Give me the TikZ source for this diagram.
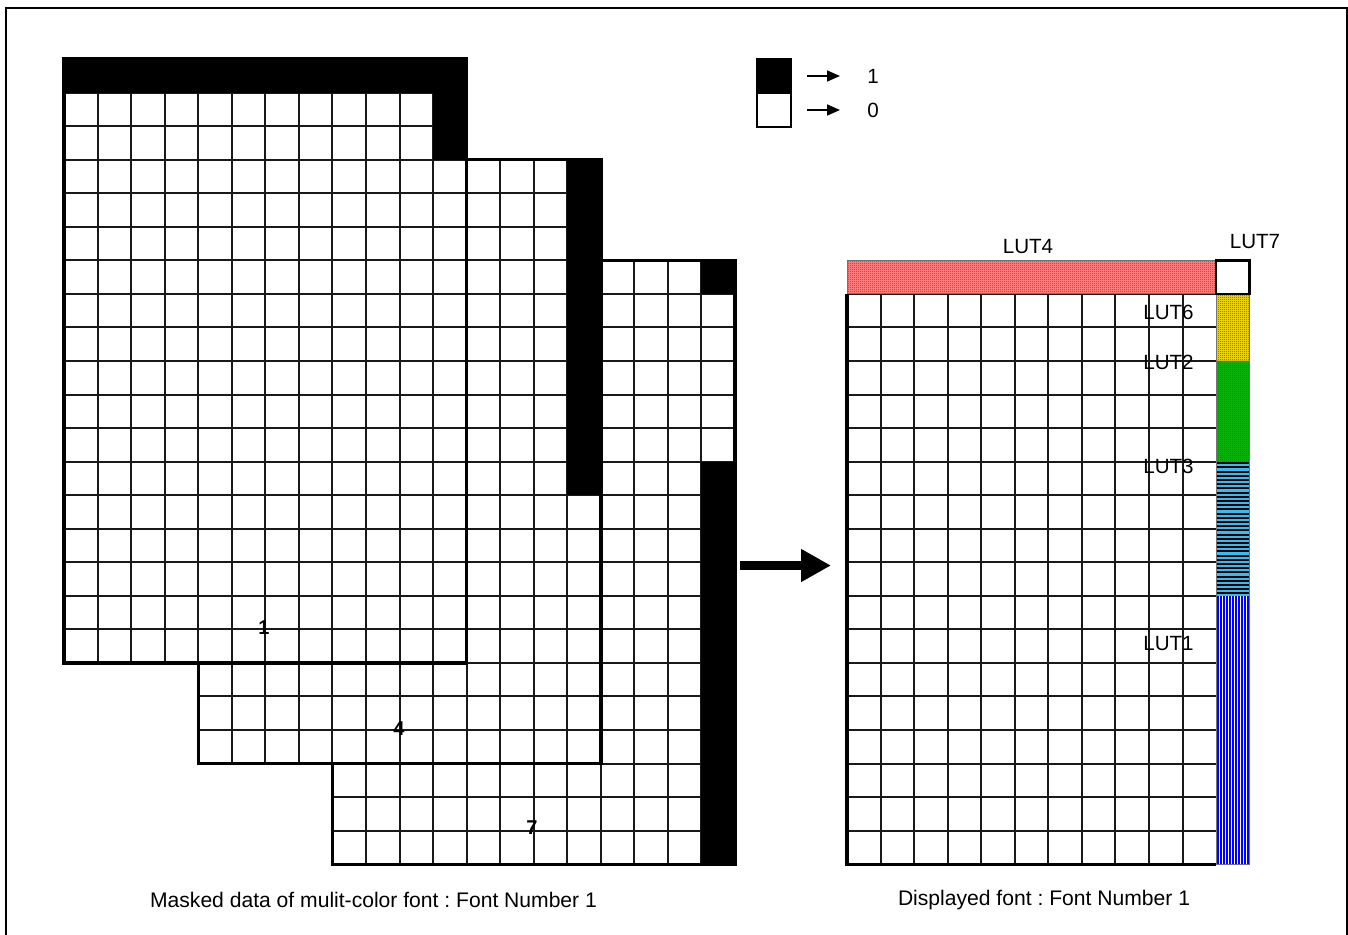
\documentclass[tikz,border=0pt]{standalone}
\usepackage{fontspec}
\setmainfont{Liberation Sans}
\usetikzlibrary{arrows.meta,patterns}
\frenchspacing

\pgfdeclarepatternformonly{finecheck}{\pgfpointorigin}{\pgfqpoint{2pt}{2pt}}{\pgfqpoint{2pt}{2pt}}{%
  \pgfpathrectangle{\pgfpointorigin}{\pgfqpoint{1pt}{1pt}}%
  \pgfpathrectangle{\pgfqpoint{1pt}{1pt}}{\pgfqpoint{1pt}{1pt}}%
  \pgfusepath{fill}}

\def\cs{33.55}

\newcommand\maskgrid[3]{%
\begin{scope}[shift={(#1,#2)}]
  \fill[white] (0,0) rectangle (12*\cs,18*\cs);
  \foreach \i in {1,...,11} \draw[gridline] (\i*\cs,0) -- (\i*\cs,18*\cs);
  \foreach \j in {1,...,17} \draw[gridline] (0,\j*\cs) -- (12*\cs,\j*\cs);
  \foreach \c/\r/\w/\h in {#3}
    \fill[black] (\c*\cs,\r*\cs) rectangle ({(\c+\w)*\cs},{(\r+\h)*\cs});
  \draw[outline] (0,0) rectangle (12*\cs,18*\cs);
\end{scope}}

\begin{document}
\begin{tikzpicture}[x=1pt,y=-1pt,
  gridline/.style={line width=2pt,black!90},
  outline/.style={line width=3.4pt,black},
  lut/.style={font=\fontsize{20.6}{24}\selectfont,inner sep=0pt},
  captxt/.style={font=\fontsize{21.1}{24}\selectfont,inner sep=0pt},
  num/.style={font=\fontsize{20}{24}\selectfont\bfseries,inner sep=0pt},
  legnum/.style={font=\fontsize{20.6}{24}\selectfont,inner sep=0pt},
  legbox/.style={draw,line width=1.6pt,minimum width=34pt,minimum height=34pt,inner sep=0pt},
  legarrow/.style={line width=1.6pt,-{Triangle[length=13pt,width=11pt]}},
  bigarrow/.style={line width=9.5pt,-{Triangle[length=30pt,width=31pt]}}
]
\useasboundingbox (0,0) rectangle (1348,934);
\draw[line width=2pt] (6,8) rectangle (1347,960);

% masked grids (back to front)
\maskgrid{332.4}{260.3}{11/0/1/1, 11/6/1/12}
\maskgrid{198.2}{159.65}{11/0/1/10}
\maskgrid{64}{59}{0/0/12/1, 11/0/1/3}

\node[num] (n1) at (264,628) {1};
\node[num] (n4) at (399,728.5) {4};
\node[num] (n7) at (532,828) {7};

% legend
\node[legbox,fill=black] (b1) at (774,76) {};
\node[legbox,fill=white] (b0) at (774,110) {};
\node[legnum] (l1) at (873,76) {1};
\node[legnum] (l0) at (873,110) {0};
\coordinate (a1s) at (807,76);
\coordinate (a1e) at (840,76);
\coordinate (a0s) at (807,110);
\coordinate (a0e) at (840,110);
\draw[legarrow] (a1s) -- (a1e);
\draw[legarrow] (a0s) -- (a0e);

% big arrow
\coordinate (bs) at (740,565.5);
\coordinate (be) at (831,565.5);
\draw[bigarrow] (bs) -- (be);

% displayed grid
\begin{scope}[shift={(847,260.3)}]
  \fill[white] (0,0) rectangle (12*\cs,18*\cs);
  \foreach \i in {1,...,10} \draw[gridline] (\i*\cs,\cs) -- (\i*\cs,18*\cs);
  \foreach \j in {1,...,17} \draw[gridline] (0,\j*\cs) -- (11*\cs,\j*\cs);
  % LUT4 row
  \fill[red!45!white] (0,0) rectangle (11*\cs,\cs);
  \fill[pattern=finecheck,pattern color=red] (0,0) rectangle (11*\cs,\cs);
  \draw[line width=0.8pt,black!55] (0,0) rectangle (11*\cs,\cs);
  % LUT6 yellow
  \fill[yellow!85!orange] (11*\cs,\cs) rectangle (12*\cs,3*\cs);
  \fill[pattern=finecheck,pattern color=black!70] (11*\cs,\cs) rectangle (12*\cs,3*\cs);
  % LUT2 green
  \fill[green!75!black] (11*\cs,3*\cs) rectangle (12*\cs,6*\cs);
  \fill[pattern=finecheck,pattern color=black!70] (11*\cs,3*\cs) rectangle (12*\cs,6*\cs);
  % LUT3 cyan stripes
  \fill[cyan!80!white] (11*\cs,6*\cs) rectangle (12*\cs,10*\cs);
  \begin{scope}
    \clip (11*\cs,6*\cs) rectangle (12*\cs,10*\cs);
    \foreach \k in {0,...,32}
      \draw[line width=2pt,black] (11*\cs,{6*\cs+1.5+\k*4.2}) -- (12*\cs,{6*\cs+1.5+\k*4.2});
  \end{scope}
  % LUT1 blue stripes
  \fill[white] (11*\cs,10*\cs) rectangle (12*\cs,18*\cs);
  \begin{scope}
    \clip (11*\cs,10*\cs) rectangle (12*\cs,18*\cs);
    \foreach \k in {0,...,11}
      \draw[line width=2.1pt,blue] ({11*\cs+1.5+\k*3.05},10*\cs) -- ({11*\cs+1.5+\k*3.05},18*\cs);
  \end{scope}
  \draw[line width=0.8pt,black!55] (11*\cs,\cs) rectangle (12*\cs,18*\cs);
  % LUT7 cell
  \draw[line width=2.6pt,black] (11*\cs,0) rectangle (12*\cs,\cs);
  % outline
  \draw[outline] (0,\cs) -- (0,18*\cs) -- (11*\cs,18*\cs);
\end{scope}

\node[lut] (lut4) at (1028,246.5) {LUT4};
\node[lut] (lut7) at (1255,242) {LUT7};
\node[lut] (lut6) at (1168.5,312) {LUT6};
\node[lut] (lut2) at (1168.5,362.5) {LUT2};
\node[lut] (lut3) at (1168.5,466) {LUT3};
\node[lut] (lut1) at (1168.5,643.5) {LUT1};

\node[captxt] (c1) at (373.5,900) {Masked data of mulit-color font : Font Number 1};
\node[captxt] (c2) at (1044,900) {Displayed font : Font Number 1};
\end{tikzpicture}
\end{document}
